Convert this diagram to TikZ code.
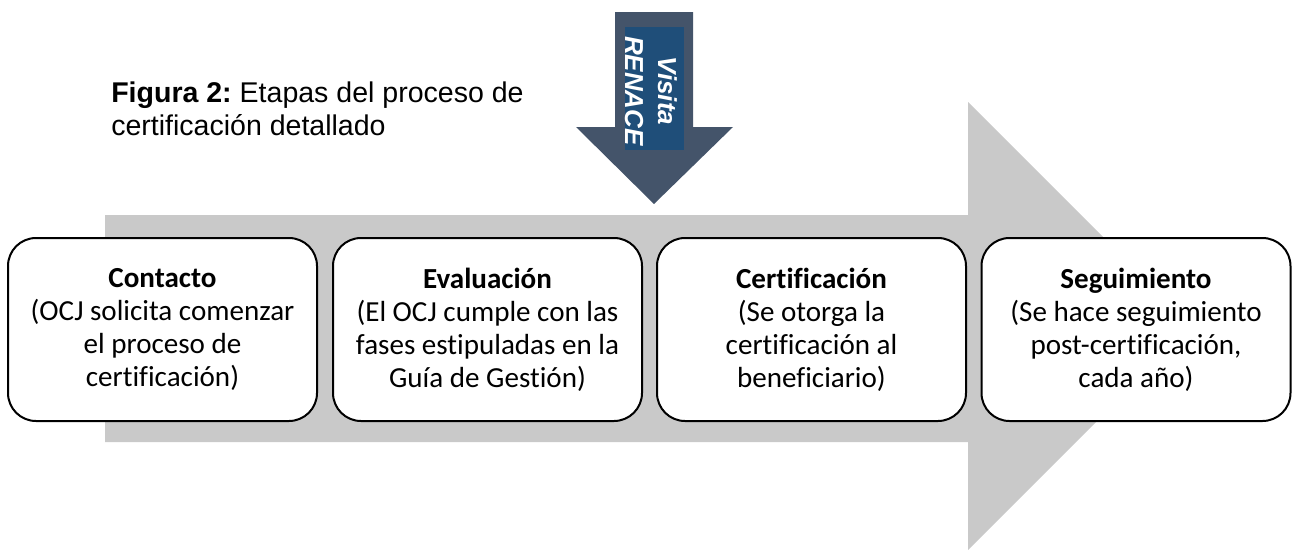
\documentclass[tikz,border=0pt]{standalone}
\usepackage{fontspec}
\setmainfont{Carlito}[Ligatures=NoCommon]
\newfontfamily\arialfont{Liberation Sans}
\usepackage{tikz}
\usetikzlibrary{calc}
\frenchspacing

\definecolor{bodygray}{HTML}{C9C9C9}
\definecolor{slate}{HTML}{44546A}
\definecolor{navy}{HTML}{1F4E79}

\tikzset{
  stagebox/.style={draw=black, line width=1.5pt, fill=white, rounded corners=21pt,
    minimum width=231.75pt, minimum height=137.25pt, align=center, inner sep=2pt,
    font=\fontsize{21.8pt}{24.75pt}\selectfont},
}

\begin{document}
\begin{tikzpicture}[x=0.75pt,y=-0.75pt]
  \useasboundingbox (0,0) rectangle (1297,550);

  %% Big grey arrow behind the stages
  \fill[bodygray] (105,215) -- (968,215) -- (968,102) -- (1192,326)
    -- (968,550) -- (968,442) -- (105,442) -- cycle;

  %% Title (base is the last line)
  \node[anchor=base west, align=left, inner sep=0pt,
        font=\arialfont\fontsize{21.4pt}{24.75pt}\selectfont] (titulo) at (111,135)
    {\textbf{Figura 2:} Etapas del proceso de\\certificación detallado};

  %% Down arrow for the visit
  \fill[slate] (615,12) -- (693,12) -- (693,127) -- (733,127) -- (654,204)
    -- (576,127) -- (615,127) -- cycle;
  \fill[navy] (625,27) rectangle (684,150);
  \node[rotate=-90, align=center, text=white, inner sep=0pt,
        font=\arialfont\bfseries\itshape\fontsize{19.5pt}{24.75pt}\selectfont] (visita) at (651,91)
    {Visita\\RENACE};

  %% Stages
  \foreach \x/\name/\txt in {
    162.5/contacto/{\textbf{Contacto}\\(OCJ solicita comenzar\\el proceso de\\certificación)},
    487.5/evaluacion/{\textbf{Evaluación}\\(El OCJ cumple con las\\fases estipuladas en la\\Guía de Gestión)},
    811.5/certificacion/{\textbf{Certificación}\\(Se otorga la\\certificación al\\beneficiario)},
    1136/seguimiento/{\textbf{Seguimiento}\\(Se hace seguimiento\\post-certificación,\\cada año)}}
  {
    \node[stagebox] (\name) at (\x,329.5) {\txt};
  }
\end{tikzpicture}
\end{document}
